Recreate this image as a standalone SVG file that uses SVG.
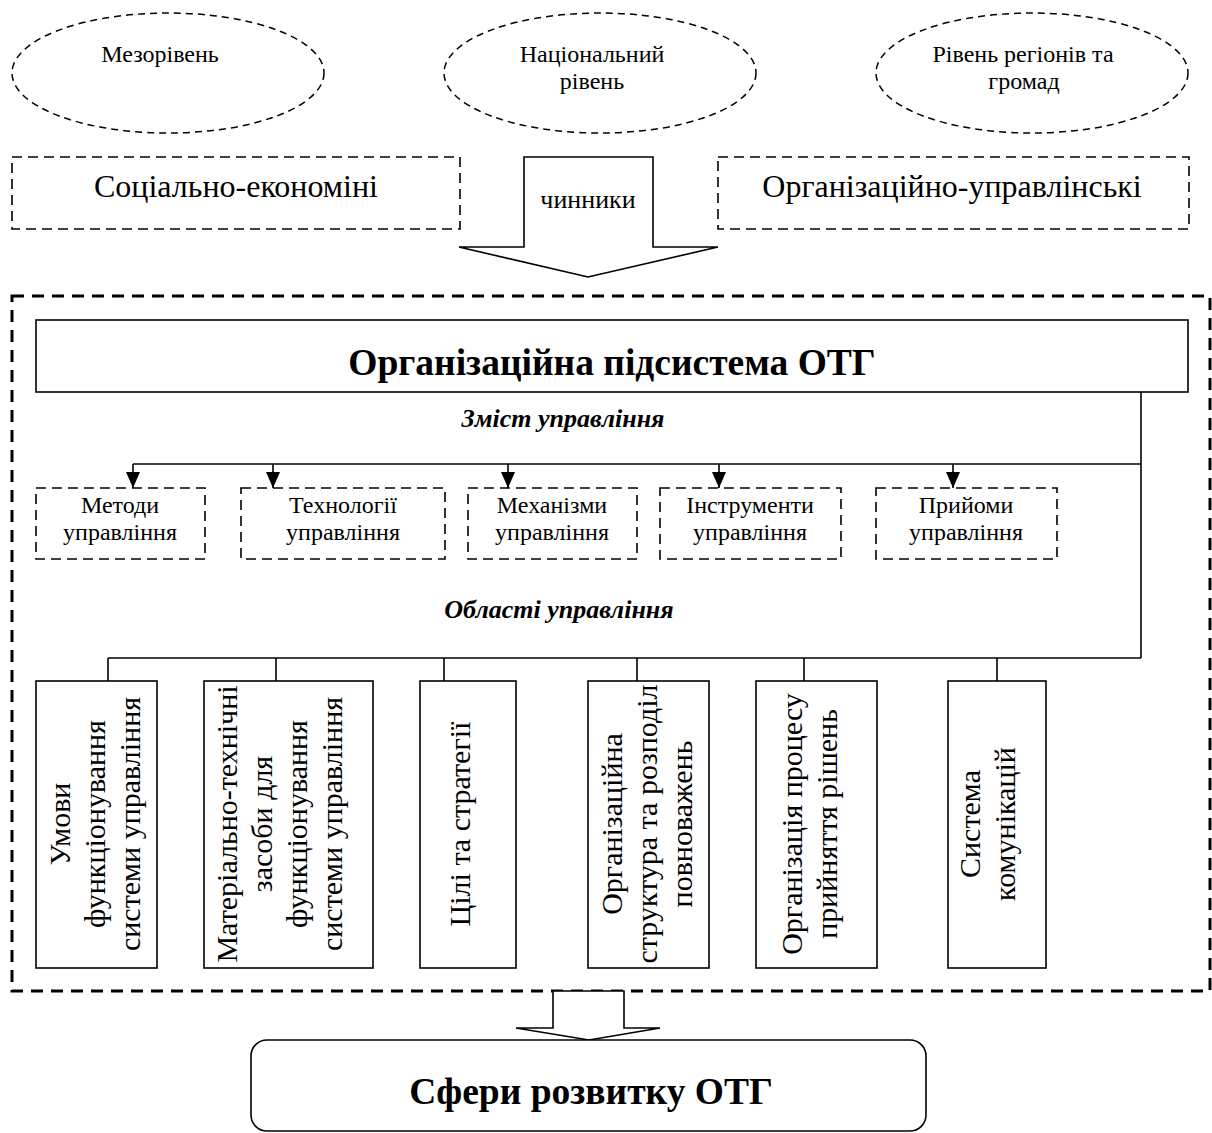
<svg xmlns="http://www.w3.org/2000/svg" width="1212" height="1133" viewBox="0 0 1212 1133">
<defs>
<style>
.t{font-family:"Liberation Serif","Times New Roman",serif;fill:#000}
.s24{font-size:24px}
.s32{font-size:32px}
.s30{font-size:30px}
.bold{font-weight:bold}
.bi{font-weight:bold;font-style:italic;font-size:26px}
.ell{fill:none;stroke:#000;stroke-width:1.5;stroke-dasharray:7 5}
.dbox{fill:none;stroke:#000;stroke-width:1.6;stroke-dasharray:10 6}
.outer{fill:none;stroke:#000;stroke-width:3;stroke-dasharray:12 8}
.solid{fill:#fff;stroke:#000;stroke-width:1.6}
.ln{fill:none;stroke:#000;stroke-width:1.6}
.big{fill:#fff;stroke:#000;stroke-width:1.6;stroke-linejoin:miter}
</style>
<marker id="ah" viewBox="0 0 14 16" markerUnits="userSpaceOnUse" markerWidth="14" markerHeight="16" refX="7" refY="16" orient="0">
<path d="M0,0 L14,0 L7,16 Z" fill="#000"/>
</marker>
</defs>
<rect width="1212" height="1133" fill="#fff"/>

<g id="ell-meso">
<ellipse class="ell" cx="168" cy="73" rx="156" ry="60"/>
<text class="t s24" x="160" y="62" text-anchor="middle">Мезорівень</text>
</g>
<g id="ell-nat">
<ellipse class="ell" cx="600" cy="73" rx="156" ry="60"/>
<text class="t s24" x="592" y="62" text-anchor="middle">Національний</text>
<text class="t s24" x="592" y="89" text-anchor="middle">рівень</text>
</g>
<g id="ell-reg">
<ellipse class="ell" cx="1032" cy="73" rx="156" ry="60"/>
<text class="t s24" x="1023" y="62" text-anchor="middle">Рівень регіонів та</text>
<text class="t s24" x="1024" y="89" text-anchor="middle">громад</text>
</g>

<g id="factor-socio">
<rect class="dbox" x="12" y="157" width="448" height="72"/>
<text class="t s32" x="236" y="197" text-anchor="middle">Соціально-економіні</text>
</g>
<g id="factor-org">
<rect class="dbox" x="718" y="157" width="471" height="72"/>
<text class="t s32" x="952" y="197" text-anchor="middle">Організаційно-управлінські</text>
</g>
<g id="arrow-factors">
<path class="big" d="M524,157 L653,157 L653,247 L718,247 L588,277 L459,247 L524,247 Z"/>
<text class="t" style="font-size:26px" x="588" y="208" text-anchor="middle">чинники</text>
</g>

<g id="outer-frame">
<rect class="outer" x="12" y="296" width="1198" height="695"/>
</g>

<g id="title">
<rect class="solid" x="36" y="320" width="1152" height="72"/>
<text class="t bold" style="font-size:37.5px" x="612" y="375" text-anchor="middle">Організаційна підсистема ОТГ</text>
</g>

<g id="label-content">
<text class="t bi" x="563" y="427" text-anchor="middle">Зміст управління</text>
</g>
<g id="label-areas">
<text class="t bi" x="559" y="618" text-anchor="middle">Області управління</text>
</g>

<g id="connectors">
<path class="ln" d="M1141,392 L1141,658"/>
<path class="ln" d="M133,464 L1141,464"/>
<path class="ln" d="M133,464 L133,488" marker-end="url(#ah)"/>
<path class="ln" d="M273,464 L273,488" marker-end="url(#ah)"/>
<path class="ln" d="M508,464 L508,488" marker-end="url(#ah)"/>
<path class="ln" d="M719,464 L719,488" marker-end="url(#ah)"/>
<path class="ln" d="M953,464 L953,488" marker-end="url(#ah)"/>
<path class="ln" d="M108,658 L1141,658"/>
<path class="ln" d="M108,658 L108,681 M276,658 L276,681 M444,658 L444,681 M637,658 L637,681 M804,658 L804,681 M997,658 L997,681"/>
</g>

<g id="m-methods">
<rect class="dbox" x="36" y="488" width="169" height="71"/>
<text class="t s24" x="120" y="513" text-anchor="middle">Методи</text>
<text class="t s24" x="120" y="540" text-anchor="middle">управління</text>
</g>
<g id="m-tech">
<rect class="dbox" x="241" y="488" width="204" height="71"/>
<text class="t s24" x="343" y="513" text-anchor="middle">Технології</text>
<text class="t s24" x="343" y="540" text-anchor="middle">управління</text>
</g>
<g id="m-mech">
<rect class="dbox" x="468" y="488" width="169" height="71"/>
<text class="t s24" x="552" y="513" text-anchor="middle">Механізми</text>
<text class="t s24" x="552" y="540" text-anchor="middle">управління</text>
</g>
<g id="m-instr">
<rect class="dbox" x="660" y="488" width="181" height="71"/>
<text class="t s24" x="750" y="513" text-anchor="middle">Інструменти</text>
<text class="t s24" x="750" y="540" text-anchor="middle">управління</text>
</g>
<g id="m-tech2">
<rect class="dbox" x="876" y="488" width="181" height="71"/>
<text class="t s24" x="966" y="513" text-anchor="middle">Прийоми</text>
<text class="t s24" x="966" y="540" text-anchor="middle">управління</text>
</g>

<g id="a-conditions">
<rect class="solid" x="36" y="681" width="121" height="287"/>
<g transform="translate(96.5,824) rotate(-90)">
<text class="t s30" x="0" y="-26.5" text-anchor="middle">Умови</text>
<text class="t s30" x="0" y="8.5" text-anchor="middle">функціонування</text>
<text class="t s30" x="0" y="43.5" text-anchor="middle">системи управління</text>
</g>
</g>
<g id="a-material">
<rect class="solid" x="204" y="681" width="169" height="287"/>
<g transform="translate(288.5,824) rotate(-90)">
<text class="t s30" x="0" y="-51.5" text-anchor="middle">Матеріально-технічні</text>
<text class="t s30" x="0" y="-16.5" text-anchor="middle">засоби для</text>
<text class="t s30" x="0" y="18.5" text-anchor="middle">функціонування</text>
<text class="t s30" x="0" y="53.5" text-anchor="middle">системи управління</text>
</g>
</g>
<g id="a-goals">
<rect class="solid" x="420" y="681" width="96" height="287"/>
<g transform="translate(468,824) rotate(-90)">
<text class="t s30" x="0" y="2" text-anchor="middle">Цілі та стратегії</text>
</g>
</g>
<g id="a-structure">
<rect class="solid" x="588" y="681" width="121" height="287"/>
<g transform="translate(648.5,824) rotate(-90)">
<text class="t s30" x="0" y="-26.5" text-anchor="middle">Організаційна</text>
<text class="t s30" x="0" y="8.5" text-anchor="middle">структура та розподіл</text>
<text class="t s30" x="0" y="43.5" text-anchor="middle">повноважень</text>
</g>
</g>
<g id="a-decisions">
<rect class="solid" x="756" y="681" width="121" height="287"/>
<g transform="translate(816.5,824) rotate(-90)">
<text class="t s30" x="0" y="-14.5" text-anchor="middle">Організація процесу</text>
<text class="t s30" x="0" y="20.5" text-anchor="middle">прийняття рішень</text>
</g>
</g>
<g id="a-comm">
<rect class="solid" x="948" y="681" width="98" height="287"/>
<g transform="translate(997,824) rotate(-90)">
<text class="t s30" x="0" y="-17" text-anchor="middle">Система</text>
<text class="t s30" x="0" y="18" text-anchor="middle">комунікацій</text>
</g>
</g>

<g id="arrow-result">
<path class="big" d="M553,991 L624,991 L624,1028 L660,1028 L589,1040 L516,1028 L553,1028 Z"/>
</g>
<g id="spheres">
<rect class="solid" x="251" y="1040" width="675" height="91" rx="16" ry="16"/>
<text class="t bold" style="font-size:37.5px" x="591" y="1104" text-anchor="middle">Сфери розвитку ОТГ</text>
</g>
</svg>
